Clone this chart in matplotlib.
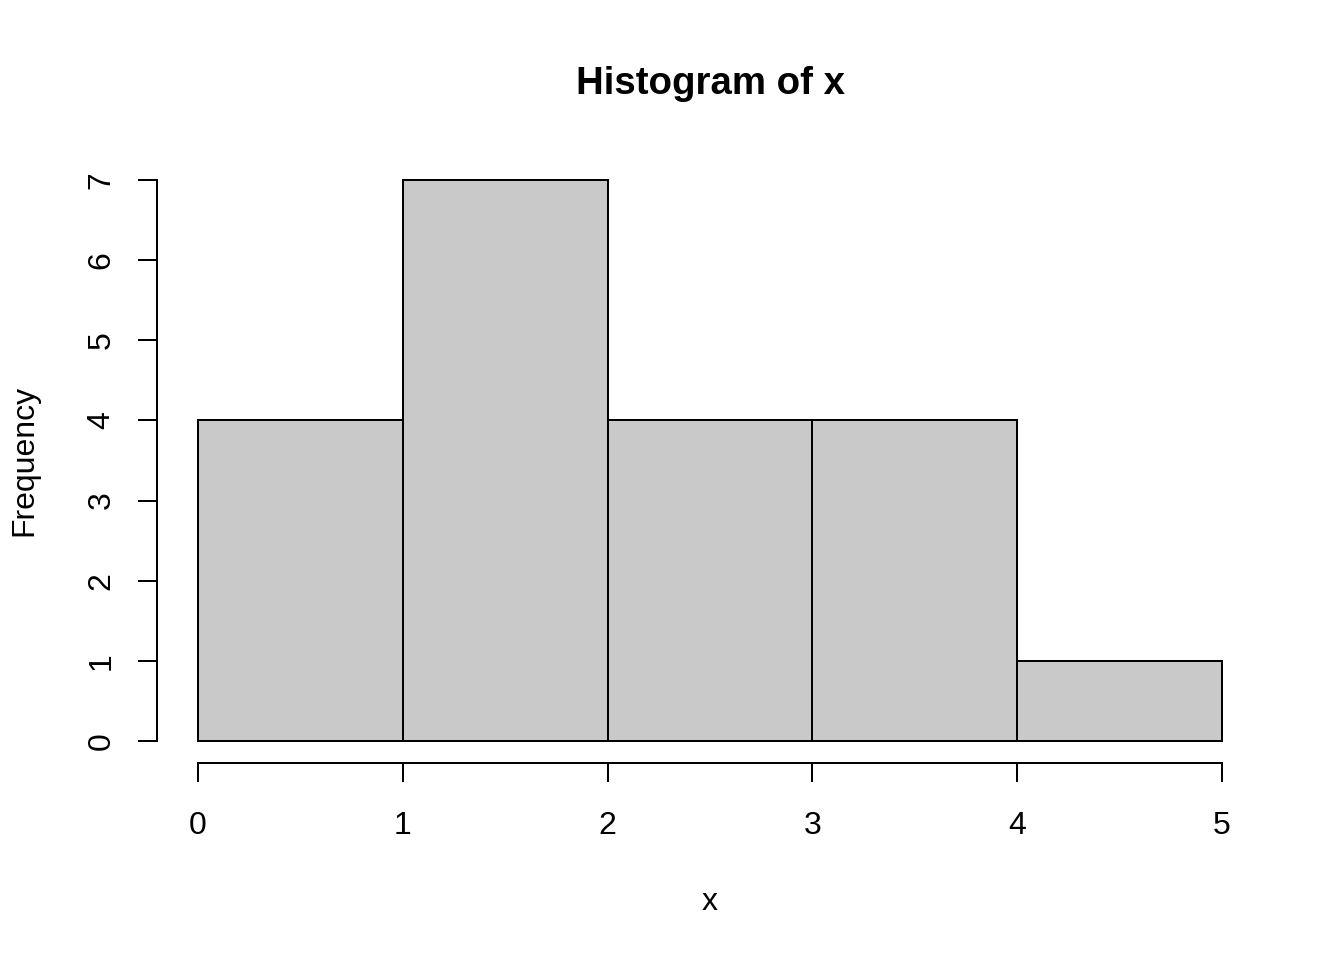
import numpy as np
import matplotlib.pyplot as plt

plt.rcParams['font.family'] = ['Liberation Sans', 'DejaVu Sans']

# histogram of x: bin edges and counts
bin_edges = [0, 1, 2, 3, 4, 5]
counts = [4, 7, 4, 4, 1]
x_ticks = [0, 1, 2, 3, 4, 5]
y_ticks = [0, 1, 2, 3, 4, 5, 6, 7]

fig = plt.figure(figsize=(7, 5), dpi=192)
ax = fig.add_axes([157 / 1344, 1 - 763.4 / 960, (1263 - 157) / 1344, (763.4 - 157.6) / 960])

ax.bar(bin_edges[:-1], counts, width=np.diff(bin_edges), align='edge',
       color='#c9c9c9', edgecolor='black', linewidth=0.75)

ax.set_xlim(-0.2, 5.2)
ax.set_ylim(-0.28, 7.28)

for side in ['top', 'right']:
    ax.spines[side].set_visible(False)
ax.spines['left'].set_bounds(0, 7)
ax.spines['bottom'].set_bounds(0, 5)
ax.spines['left'].set_linewidth(0.75)
ax.spines['bottom'].set_linewidth(0.75)

ax.set_xticks(x_ticks)
ax.set_yticks(y_ticks)
ax.tick_params(axis='both', direction='out', length=7.2, width=0.75, labelsize=12)
ax.tick_params(axis='x', pad=10.5)
ax.tick_params(axis='y', pad=8)
plt.setp(ax.get_yticklabels(), rotation=90, va='center')

ax.set_title('Histogram of x', fontsize=14.4, fontweight='bold', pad=24)
ax.set_xlabel('x', fontsize=12, labelpad=17.5)
ax.set_ylabel('Frequency', fontsize=12, labelpad=17.5)

fig.savefig('out.png', dpi=192)
